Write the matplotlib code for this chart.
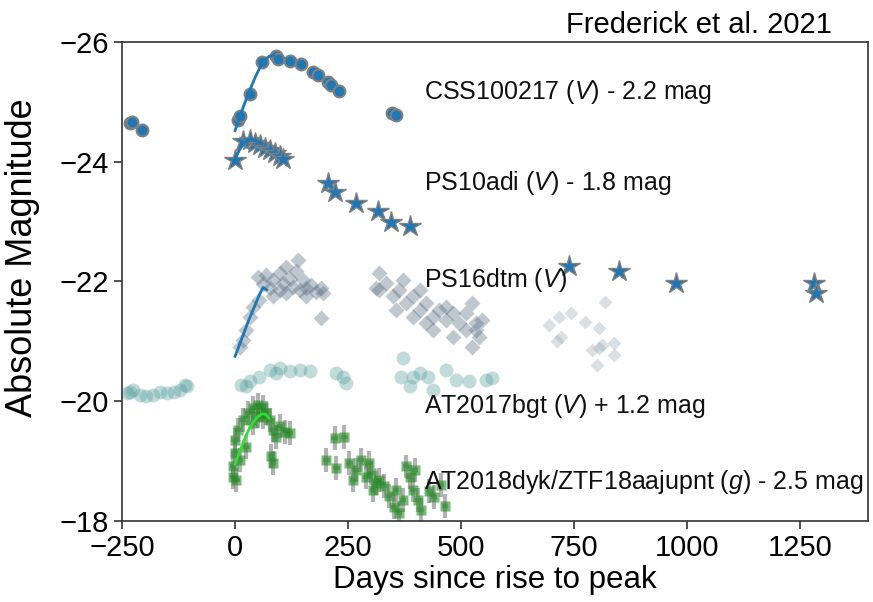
import matplotlib
matplotlib.use("Agg")
import matplotlib.pyplot as plt
import numpy as np

plt.rcParams['font.family'] = ['Liberation Sans', 'DejaVu Sans']
plt.rcParams['mathtext.fontset'] = 'custom'
plt.rcParams['mathtext.it'] = 'Liberation Sans:italic'
plt.rcParams['mathtext.rm'] = 'Liberation Sans'

# CSS100217 (V) - 2.2 mag
css_days = [-232, -228, -206, 7, 10, 32, 60, 91, 95, 121,
            145, 172, 183, 205, 213, 229, 348, 356]
css_mag = [-24.64, -24.67, -24.53, -24.70, -24.76, -25.14, -25.67, -25.77, -25.71, -25.68,
           -25.64, -25.50, -25.45, -25.34, -25.28, -25.18, -24.81, -24.78]
css_fit_days = [0, 10, 20, 30, 45, 60, 75, 85]
css_fit_mag = [-24.52, -24.75, -24.95, -25.15, -25.42, -25.65, -25.76, -25.78]

# PS10adi (V) - 1.8 mag
ps10_days = [0, 18, 32, 44, 55, 66, 77, 88, 99, 106,
             205, 220, 268, 316, 345, 386, 738, 849, 975, 1280, 1286]
ps10_mag = [-24.03, -24.34, -24.36, -24.31, -24.28, -24.23, -24.20, -24.15, -24.10, -24.05,
            -23.64, -23.50, -23.31, -23.17, -23.00, -22.93, -22.26, -22.18, -21.98, -21.98, -21.80]
ps10_fit_days = [0, 10, 20, 35, 50, 60]
ps10_fit_mag = [-24.05, -24.20, -24.32, -24.37, -24.34, -24.30]

# PS16dtm (V)
dtm_days = [10, 18, 25, 32, 40, 54, 51, 69, 84, 99,
            113, 139, 121, 135, 150, 157, 168, 180, 191, 194,
            99, 113, 128, 143, 84, 77, 106, 191, 157, 62,
            319, 312, 334, 349, 363, 378, 393, 408, 422, 437,
            452, 466, 481, 496, 510, 525, 533, 540, 525, 356,
            393, 437, 481, 533, 319, 371, 408, 422, 466, 510, 547]
dtm_mag = [-20.91, -21.02, -21.19, -21.41, -21.58, -21.69, -22.08, -22.11, -22.03, -22.14,
           -22.25, -22.36, -22.05, -22.17, -22.03, -21.89, -21.94, -21.83, -21.89, -21.80,
           -21.86, -21.80, -21.91, -21.86, -21.75, -21.89, -21.97, -21.39, -21.75, -21.95,
           -22.14, -21.89, -21.97, -21.75, -21.86, -21.64, -21.75, -21.53, -21.64, -21.41,
           -21.53, -21.36, -21.47, -21.30, -21.47, -21.64, -21.19, -21.08, -20.91, -21.53,
           -21.41, -21.19, -21.08, -21.30, -21.86, -22.03, -21.86, -21.30, -21.58, -21.19, -21.36]
dtm_late_days = [819, 716, 694, 742, 775, 720, 713, 805, 790, 805, 838, 838, 801, 812]
dtm_late_mag = [-21.66, -21.41, -21.27, -21.47, -21.33, -21.08, -21.00, -21.22, -20.86, -20.89,
                -20.97, -20.77, -20.61, -20.94]
dtm_fit_days = [0, 15, 30, 45, 55, 62, 70]
dtm_fit_mag = [-20.75, -21.05, -21.35, -21.62, -21.80, -21.90, -21.86]

# AT2017bgt (V) + 1.2 mag
bgt_days = [-240, -232, -225, -210, -196, -181, -166, -151, -136, -122,
            -107, -111, 14, 25, 32, 54, 77, 91, 99, 121,
            143, 165, 224, 238, 246, 367, 371, 386, 393, 408,
            426, 437, 466, 488, 518, 555, 569]
bgt_mag = [-20.13, -20.16, -20.19, -20.11, -20.08, -20.11, -20.16, -20.13, -20.16, -20.19,
           -20.25, -20.27, -20.27, -20.25, -20.33, -20.41, -20.52, -20.47, -20.55, -20.50,
           -20.52, -20.50, -20.47, -20.41, -20.30, -20.41, -20.72, -20.25, -20.41, -20.47,
           -20.41, -20.19, -20.52, -20.36, -20.33, -20.36, -20.38]

# AT2018dyk/ZTF18aajupnt (g) - 2.5 mag
dyk_days = [-4, -4, -1, -1, 7, 18, 29, 40, 51, 62,
            69, 77, 62, 84, 91, 99, 110, 121, 80, 84,
            3, 10, 25, 40, 51, 220, 242, 202, 224, 253,
            268, 279, 290, 301, 312, 319, 330, 341, 352, 363,
            371, 378, 386, 393, 404, 411, 261, 305, 356, 397,
            297, 430, 440, 455, 465]
dyk_mag = [-18.74, -18.91, -19.13, -19.36, -19.52, -19.69, -19.80, -19.88, -19.94, -19.91,
           -19.80, -19.69, -19.74, -19.52, -19.41, -19.58, -19.49, -19.47, -19.08, -18.97,
           -18.69, -19.02, -19.24, -19.63, -19.75, -19.38, -19.41, -19.02, -18.88, -18.97,
           -18.85, -19.02, -18.74, -18.80, -18.63, -18.69, -18.58, -18.41, -18.24, -18.13,
           -18.35, -18.91, -18.74, -18.52, -18.35, -18.19, -18.69, -18.52, -18.52, -18.85,
           -18.97, -18.50, -18.40, -18.60, -18.25]
dyk_fit_days = [0, 10, 20, 30, 40, 50, 60, 68, 75]
dyk_fit_mag = [-18.95, -19.15, -19.35, -19.52, -19.65, -19.74, -19.79, -19.78, -19.72]

labels = ['CSS100217 ($\\it{V}$) - 2.2 mag', 'PS10adi ($\\it{V}$) - 1.8 mag', 'PS16dtm ($\\it{V}$)',
          'AT2017bgt ($\\it{V}$) + 1.2 mag', 'AT2018dyk/ZTF18aajupnt ($\\it{g}$) - 2.5 mag']
label_mag = [-25.17, -23.65, -22.03, -19.92, -18.65]

fig = plt.figure(figsize=(8.73, 6.02), dpi=100)
ax = fig.add_axes([0.1398, 0.1346, 0.8545, 0.7956])

# AT2018dyk errorbars + points
ax.errorbar(dyk_days, dyk_mag, xerr=7, yerr=0.2, fmt='none', ecolor='gray',
            elinewidth=3, alpha=0.6, capsize=0, zorder=2)
ax.plot(dyk_days, dyk_mag, 's', ms=7, color='#1e8c1e', alpha=0.6, mec='none', zorder=2)
ax.plot(dyk_fit_days, dyk_fit_mag, color='#33dd33', lw=2, zorder=3)

ax.plot(bgt_days, bgt_mag, 'o', ms=10, color='#4f9a9a', alpha=0.35, mec='none', zorder=2)

ax.plot(dtm_days, dtm_mag, 'D', ms=8, color='#5f7388', alpha=0.4, mec='none', zorder=2)
ax.plot(dtm_late_days, dtm_late_mag, 'D', ms=7, color='#8a9aaa', alpha=0.3, mec='none', zorder=2)
ax.plot(dtm_fit_days, dtm_fit_mag, color='#1f77b4', lw=2, zorder=3)

ax.plot(ps10_days, ps10_mag, '*', ms=16, color='#1f77b4', mec='gray', mew=1, zorder=4)
ax.plot(ps10_fit_days, ps10_fit_mag, color='#1f77b4', lw=2, zorder=5)

ax.plot(css_days, css_mag, 'o', ms=8.5, color='#1f77b4', mec='gray', mew=1.5, zorder=4)
ax.plot(css_fit_days, css_fit_mag, color='#1f77b4', lw=2, zorder=5)

for lab, m in zip(labels, label_mag):
    ax.text(418, m, lab, fontsize=18, va='center', ha='left', color='#111111', zorder=6)

ax.set_xlim(-250, 1400)
ax.set_ylim(-18, -26)
ax.set_xticks([-250, 0, 250, 500, 750, 1000, 1250])
ax.set_yticks([-26, -24, -22, -20, -18])
ax.tick_params(labelsize=21, length=6, width=1.2, color='#333333')
for s in ax.spines.values():
    s.set_color('#333333')
    s.set_linewidth(1.2)

ax.set_xlabel('Days since rise to peak', fontsize=22.5, labelpad=2)
ax.set_ylabel('Absolute Magnitude', fontsize=26)
ax.yaxis.set_label_coords(-0.11, 0.55)

fig.text(0.953, 0.945, 'Frederick et al. 2021', fontsize=21, ha='right', va='baseline')

fig.savefig('out.png', dpi=100)
